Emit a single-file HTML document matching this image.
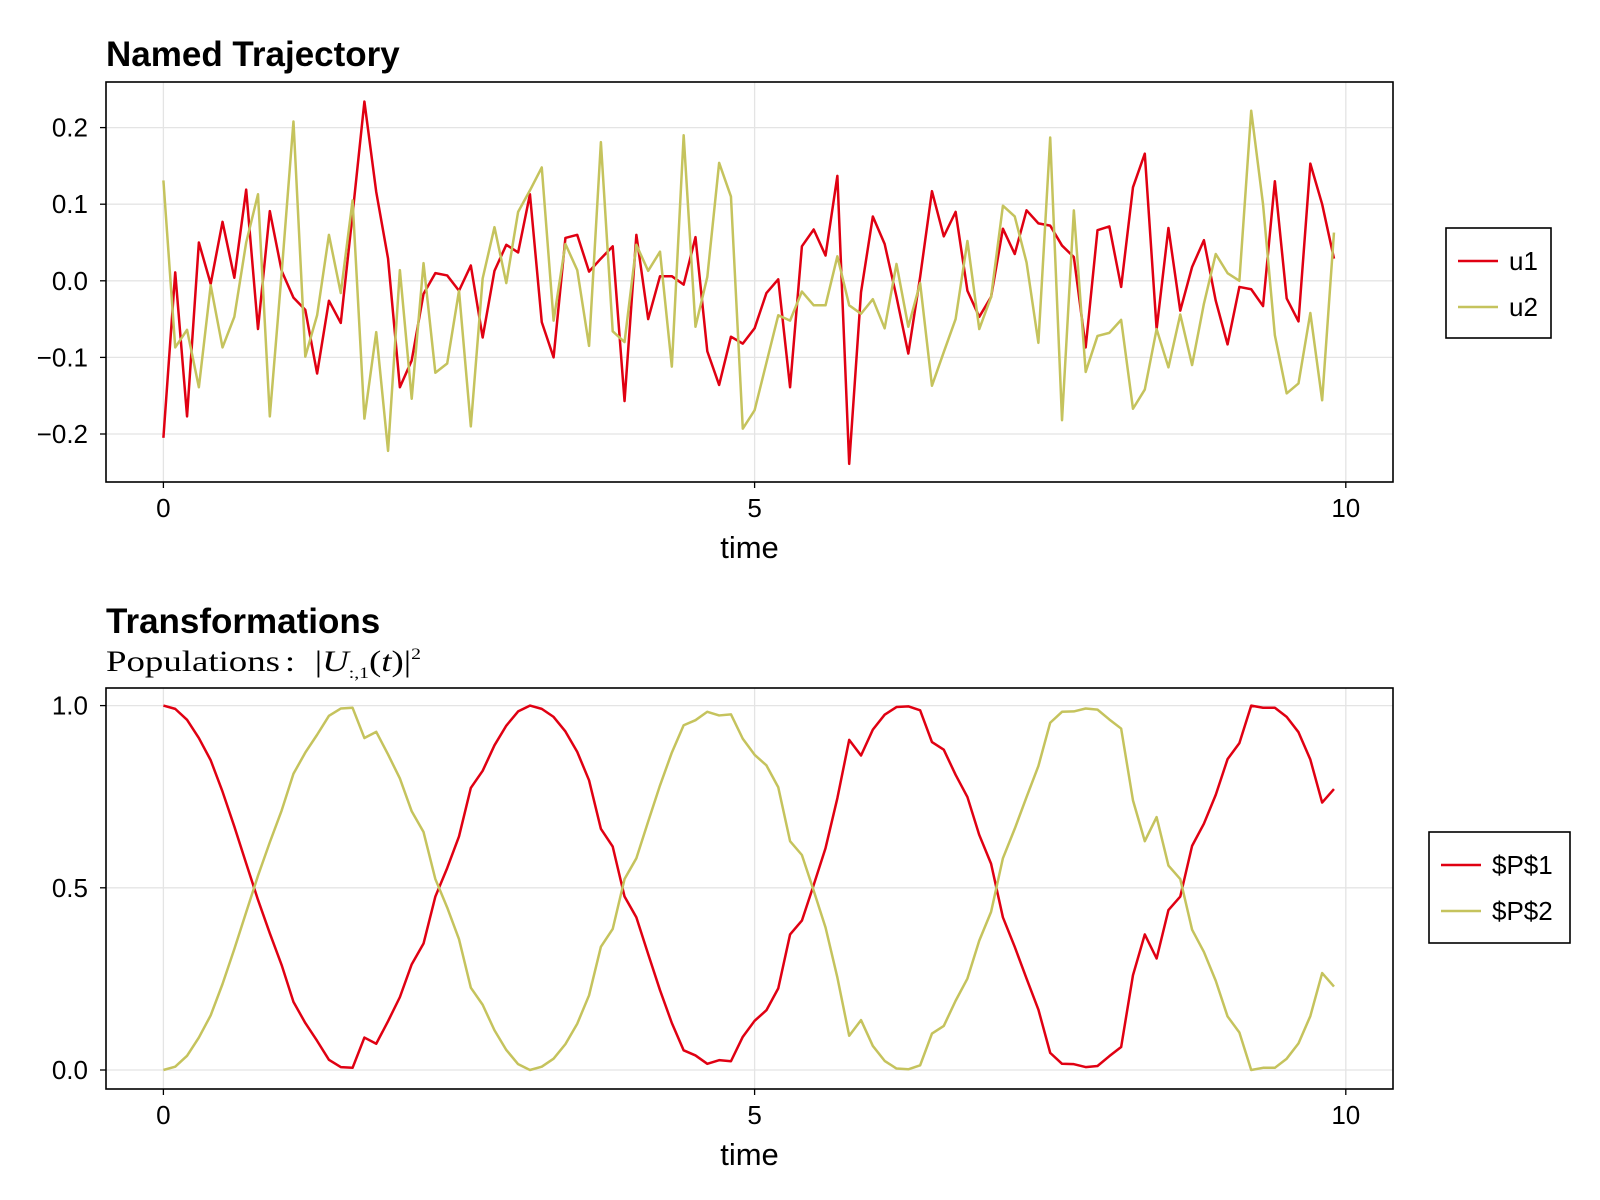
<!DOCTYPE html>
<html><head><meta charset="utf-8"><style>
html,body{margin:0;padding:0;background:#fff;}
svg{display:block;font-family:"Liberation Sans",Arial,sans-serif;}
</style></head><body>
<svg id="chart" width="1600" height="1200" viewBox="0 0 1600 1200" xmlns="http://www.w3.org/2000/svg">
<rect width="1600" height="1200" fill="#fff"/>
<text x="106" y="66" font-size="35" font-weight="bold">Named Trajectory</text>
<text x="106" y="633" font-size="35" font-weight="bold">Transformations</text>
<text x="106" y="671" font-size="30" font-family="Liberation Serif,serif" textLength="315" lengthAdjust="spacingAndGlyphs">Populations<tspan dx="4">:</tspan><tspan dx="16">|</tspan><tspan font-style="italic">U</tspan><tspan font-size="16" dy="7">:,1</tspan><tspan dy="-7">(</tspan><tspan font-style="italic">t</tspan><tspan>)|</tspan><tspan font-size="16" dy="-12">2</tspan></text>
<g id="p1"></g>
<g id="p2"></g>
</svg>
<script>
const timeValues = Array.from({length:100},(_, i)=>i/10);
const u1Values = [-0.205,0.011,-0.177,0.05,-0.004,0.077,0.004,0.119,-0.063,0.091,0.013,-0.022,-0.038,-0.121,-0.026,-0.055,0.087,0.234,0.116,0.029,-0.139,-0.104,-0.017,0.010,0.007,-0.013,0.020,-0.074,0.013,0.047,0.037,0.113,-0.054,-0.100,0.056,0.060,0.012,0.029,0.045,-0.157,0.060,-0.050,0.006,0.006,-0.005,0.057,-0.092,-0.136,-0.073,-0.082,
-0.062,-0.016,0.002,-0.139,0.045,0.067,0.033,0.137,-0.239,-0.015,0.084,0.048,-0.021,-0.095,0.005,0.117,0.058,0.09,-0.013,-0.047,-0.021,0.068,0.035,0.092,0.075,0.072,0.046,0.031,-0.087,0.066,0.071,-0.008,0.122,0.166,-0.063,0.069,-0.039,0.018,0.053,-0.026,-0.083,-0.008,-0.011,-0.033,0.13,-0.023,-0.053,0.153,0.1,0.029];
const u2Values = [0.131,-0.087,-0.064,-0.139,-0.006,-0.087,-0.047,0.05,0.113,-0.177,0.01,0.208,-0.099,-0.045,0.06,-0.016,0.105,-0.18,-0.067,-0.222,0.014,-0.154,0.023,-0.12,-0.108,-0.013,-0.19,0.003,0.07,-0.003,0.09,0.118,0.148,-0.052,0.048,0.014,-0.085,0.181,-0.066,-0.08,0.047,0.013,0.038,-0.112,0.19,-0.06,0.005,0.154,0.11,-0.193,
-0.169,-0.107,-0.045,-0.052,-0.014,-0.032,-0.032,0.032,-0.032,-0.043,-0.024,-0.062,0.022,-0.06,-0.003,-0.137,-0.093,-0.05,0.052,-0.063,-0.021,0.098,0.084,0.024,-0.081,0.187,-0.182,0.092,-0.119,-0.072,-0.068,-0.051,-0.167,-0.142,-0.063,-0.113,-0.044,-0.11,-0.03,0.035,0.01,0.0,0.222,0.1,-0.071,-0.147,-0.134,-0.042,-0.156,0.063];
const p1Values = [1.0,0.991,0.961,0.911,0.85,0.764,0.668,0.567,0.467,0.375,0.288,0.187,0.129,0.08,0.028,0.008,0.006,0.089,0.072,0.134,0.2,0.29,0.347,0.476,0.554,0.641,0.774,0.821,0.891,0.945,0.984,1.0,0.991,0.969,0.929,0.873,0.795,0.662,0.613,0.476,0.419,0.318,0.219,0.129,0.054,0.04,0.017,0.027,0.024,0.091,
0.135,0.164,0.224,0.372,0.41,0.508,0.609,0.746,0.906,0.863,0.934,0.975,0.996,0.998,0.987,0.9,0.879,0.81,0.749,0.645,0.566,0.419,0.338,0.251,0.166,0.047,0.017,0.016,0.008,0.011,0.038,0.063,0.26,0.372,0.306,0.439,0.476,0.615,0.676,0.755,0.853,0.897,1.0,0.994,0.994,0.969,0.927,0.852,0.734,0.771];
const p2Values = [0.0,0.009,0.039,0.089,0.15,0.236,0.332,0.433,0.533,0.625,0.712,0.813,0.871,0.92,0.972,0.992,0.994,0.911,0.928,0.866,0.8,0.71,0.653,0.524,0.446,0.359,0.226,0.179,0.109,0.055,0.016,0.0,0.009,0.031,0.071,0.127,0.205,0.338,0.387,0.524,0.581,0.682,0.781,0.871,0.946,0.96,0.983,0.973,0.976,0.909,
0.865,0.836,0.776,0.628,0.59,0.492,0.391,0.254,0.094,0.137,0.066,0.025,0.004,0.002,0.013,0.1,0.121,0.19,0.251,0.355,0.434,0.581,0.662,0.749,0.834,0.953,0.983,0.984,0.992,0.989,0.962,0.937,0.74,0.628,0.694,0.561,0.524,0.385,0.324,0.245,0.147,0.103,0.0,0.006,0.006,0.031,0.073,0.148,0.266,0.229];
const xTicks = [0,5,10];
const yTicks1 = [-0.2,-0.1,0.0,0.1,0.2];
const yTickLabels1 = ["\u22120.2","\u22120.1","0.0","0.1","0.2"];
const yTicks2 = [0.0,0.5,1.0];
const yTickLabels2 = ["0.0","0.5","1.0"];

const NS="http://www.w3.org/2000/svg";
const RED="#e00012", YEL="#c5c35d";
function mk(parent,tag,attrs){const e=document.createElementNS(NS,tag);for(const k in attrs)e.setAttribute(k,attrs[k]);parent.appendChild(e);return e;}

function drawPanel(g,box,yDom,yTicks,yLabels,series,legend,prefix){
  const [L,T,R,B]=box;
  const xs=t=>163.4+t*(1345.8-163.4)/10;
  const ys=v=>yDom.y0+(v-yDom.v0)*(yDom.y1-yDom.y0)/(yDom.v1-yDom.v0);
  xTicks.forEach(t=>{
    const l=mk(g,'line',{x1:xs(t),x2:xs(t),y1:T,y2:B,stroke:'#e4e4e4','stroke-width':1.3});
    
    
    const tk=mk(g,'line',{x1:xs(t),x2:xs(t),y1:B,y2:B+6,stroke:'#000','stroke-width':1.3});
    
    
    const tx=mk(g,'text',{x:xs(t),y:B+35,'font-size':26,'text-anchor':'middle'});
    tx.textContent=String(t);
    
    
  });
  yTicks.forEach((v,i)=>{
    const l=mk(g,'line',{x1:L,x2:R,y1:ys(v),y2:ys(v),stroke:'#e4e4e4','stroke-width':1.3});
    
    
    const tk=mk(g,'line',{x1:L-6,x2:L,y1:ys(v),y2:ys(v),stroke:'#000','stroke-width':1.3});
    
    
    const tx=mk(g,'text',{x:L-18,y:ys(v)+9,'font-size':26,'text-anchor':'end'});
    tx.textContent=yLabels[i];
    
    
  });
  series.forEach(s=>{
    const d=s.vals.map((v,i)=>(i?'L':'M')+xs(timeValues[i]).toFixed(2)+','+ys(v).toFixed(2)).join('');
    const p=mk(g,'path',{d:d,fill:'none',stroke:s.color,'stroke-width':2.5,'stroke-linejoin':'round'});
    
    
  });
  const fr=mk(g,'rect',{x:L,y:T,width:R-L,height:B-T,fill:'none',stroke:'#000','stroke-width':1.6});
  
  
  const xt=mk(g,'text',{x:(L+R)/2,y:B+76,'font-size':31,'text-anchor':'middle'});
  xt.textContent='time';
  
  
  const lg=mk(g,'g',{});
  
  
  mk(lg,'rect',{x:legend.x,y:legend.y,width:legend.w,height:legend.h,fill:'#fff',stroke:'#000','stroke-width':1.6});
  series.forEach((s,i)=>{
    const cy=legend.y+33+i*46;
    const e=mk(lg,'g',{});
    
    
    mk(e,'line',{x1:legend.x+12,x2:legend.x+52,y1:cy,y2:cy,stroke:s.color,'stroke-width':2.5});
    const t=mk(e,'text',{x:legend.x+63,y:cy+9,'font-size':26});
    t.textContent=s.label;
  });
}
drawPanel(document.getElementById('p1'),[106,82,1393,482],{v0:0.2,y0:127.6,v1:-0.2,y1:434},yTicks1,yTickLabels1,
  [{key:'u1',label:'u1',vals:u1Values,color:RED},{key:'u2',label:'u2',vals:u2Values,color:YEL}],
  {x:1446,y:228,w:105,h:110},'top');
drawPanel(document.getElementById('p2'),[106,688,1393,1089],{v0:1.0,y0:705.6,v1:0.0,y1:1070},yTicks2,yTickLabels2,
  [{key:'p1',label:'$P$1',vals:p1Values,color:RED},{key:'p2',label:'$P$2',vals:p2Values,color:YEL}],
  {x:1429,y:832,w:141,h:111},'bottom');
</script>
</body></html>
